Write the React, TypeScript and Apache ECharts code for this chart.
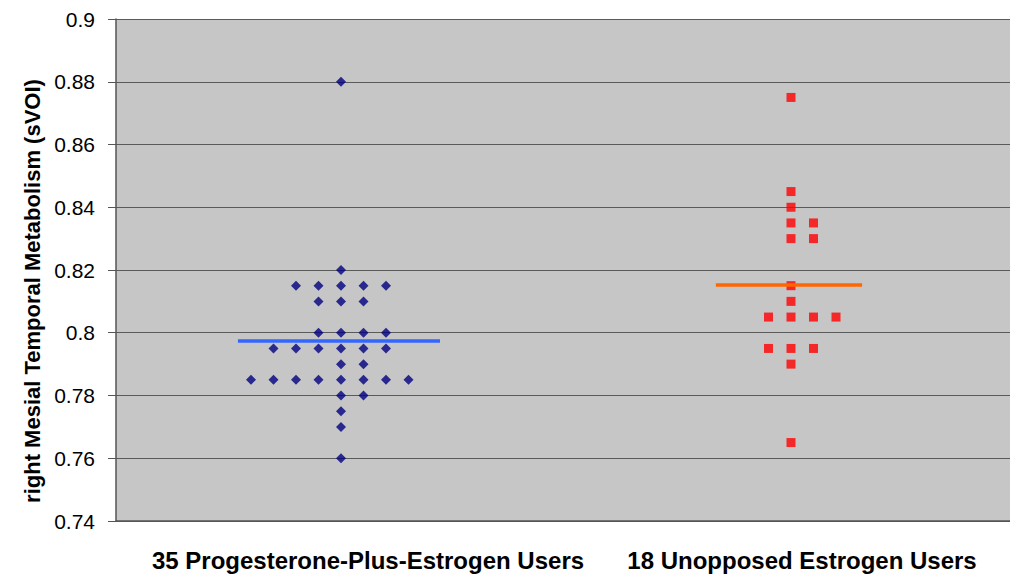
import React, { useEffect, useRef } from "react";
import * as echarts from "echarts";

// ---- data ----
const categories = ["35 Progesterone-Plus-Estrogen Users", "18 Unopposed Estrogen Users"];
const yTitle = "right Mesial Temporal Metabolism (sVOI)";

// group A: progesterone-plus-estrogen (value, column offset within the dot plot)
const groupAValues = [
  0.88,
  0.82,
  0.815, 0.815, 0.815, 0.815, 0.815,
  0.81, 0.81, 0.81,
  0.8, 0.8, 0.8, 0.8,
  0.795, 0.795, 0.795, 0.795, 0.795, 0.795,
  0.79, 0.79,
  0.785, 0.785, 0.785, 0.785, 0.785, 0.785, 0.785, 0.785,
  0.78, 0.78,
  0.775,
  0.77,
  0.76,
];
const groupAColumns = [
  0,
  0,
  -2, -1, 0, 1, 2,
  -1, 0, 1,
  -1, 0, 1, 2,
  -3, -2, -1, 0, 1, 2,
  0, 1,
  -4, -3, -2, -1, 0, 1, 2, 3,
  0, 1,
  0,
  0,
  0,
];

// group B: unopposed estrogen
const groupBValues = [
  0.875,
  0.845,
  0.84,
  0.835, 0.835,
  0.83, 0.83,
  0.815,
  0.81,
  0.805, 0.805, 0.805, 0.805,
  0.795, 0.795, 0.795,
  0.79,
  0.765,
];
const groupBColumns = [
  0,
  0,
  0,
  0, 1,
  0, 1,
  0,
  0,
  -1, 0, 1, 2,
  -1, 0, 1,
  0,
  0,
];

const groupMeans = [0.7974, 0.8152];

// ---- layout / style ----
const COL_STEP = 0.05;
const X_MAX = 894 / 450; // plot runs past the right edge of the picture
const MEAN_SPANS = [
  [0.271, 0.72],
  [1.333, 1.658],
];
const FONT = "'Liberation Sans', Arial, sans-serif";

export default function App() {
  const ref = useRef<HTMLDivElement>(null);

  useEffect(() => {
    if (!ref.current) return;
    const chart = echarts.init(ref.current, null, { renderer: "svg" });

    const ptsA = groupAValues.map((v, i) => [0.5 + groupAColumns[i] * COL_STEP, v]);
    const ptsB = groupBValues.map((v, i) => [1.5 + groupBColumns[i] * COL_STEP, v]);

    chart.setOption({
      animation: false,
      backgroundColor: "#ffffff",
      grid: {
        left: 116,
        top: 19,
        right: 0,
        height: 502,
        show: true,
        backgroundColor: "#c6c6c6",
        borderWidth: 0,
      },
      xAxis: {
        type: "value",
        min: 0,
        max: X_MAX,
        axisLine: { show: true, onZero: false, lineStyle: { color: "#555555", width: 1.5 } },
        axisTick: { show: false },
        axisLabel: { show: false },
        splitLine: { show: false },
      },
      yAxis: {
        type: "value",
        min: 0.74,
        max: 0.9,
        interval: 0.02,
        axisLine: { show: true, lineStyle: { color: "#555555", width: 1.5 } },
        axisTick: { show: true, length: 8, lineStyle: { color: "#555555", width: 1 } },
        axisLabel: {
          margin: 21,
          color: "#000000",
          fontFamily: FONT,
          fontSize: 21,
          formatter: (v: number) => String(+v.toFixed(2)),
        },
        splitLine: { show: true, lineStyle: { color: "#5a5a5a", width: 1 } },
      },
      series: [
        {
          type: "scatter",
          data: ptsA,
          symbol: "diamond",
          symbolSize: 10,
          itemStyle: { color: "#000080" },
          z: 2,
        },
        {
          type: "scatter",
          data: ptsB,
          symbol: "rect",
          symbolSize: 9,
          itemStyle: { color: "#ff0000" },
          z: 2,
        },
        {
          type: "line",
          data: MEAN_SPANS[0].map((x) => [x, groupMeans[0]]),
          symbol: "none",
          lineStyle: { color: "#3366ff", width: 3.5 },
          z: 3,
        },
        {
          type: "line",
          data: MEAN_SPANS[1].map((x) => [x, groupMeans[1]]),
          symbol: "none",
          lineStyle: { color: "#ff6600", width: 3.5 },
          z: 3,
        },
      ],
      graphic: [
        {
          type: "text",
          x: 32,
          y: 291,
          rotation: Math.PI / 2,
          style: {
            text: yTitle,
            fill: "#000000",
            font: `bold 22px ${FONT}`,
            textAlign: "center",
            textVerticalAlign: "middle",
          },
        },
        {
          type: "text",
          x: 368,
          y: 560,
          style: {
            text: categories[0],
            fill: "#000000",
            font: `bold 24px ${FONT}`,
            textAlign: "center",
            textVerticalAlign: "middle",
          },
        },
        {
          type: "text",
          x: 802,
          y: 560,
          style: {
            text: categories[1],
            fill: "#000000",
            font: `bold 24px ${FONT}`,
            textAlign: "center",
            textVerticalAlign: "middle",
          },
        },
      ],
    });

    return () => chart.dispose();
  }, []);

  return (
    <div
      ref={ref}
      style={{ position: "fixed", left: 0, top: 0, width: 1010, height: 579 }}
    />
  );
}
